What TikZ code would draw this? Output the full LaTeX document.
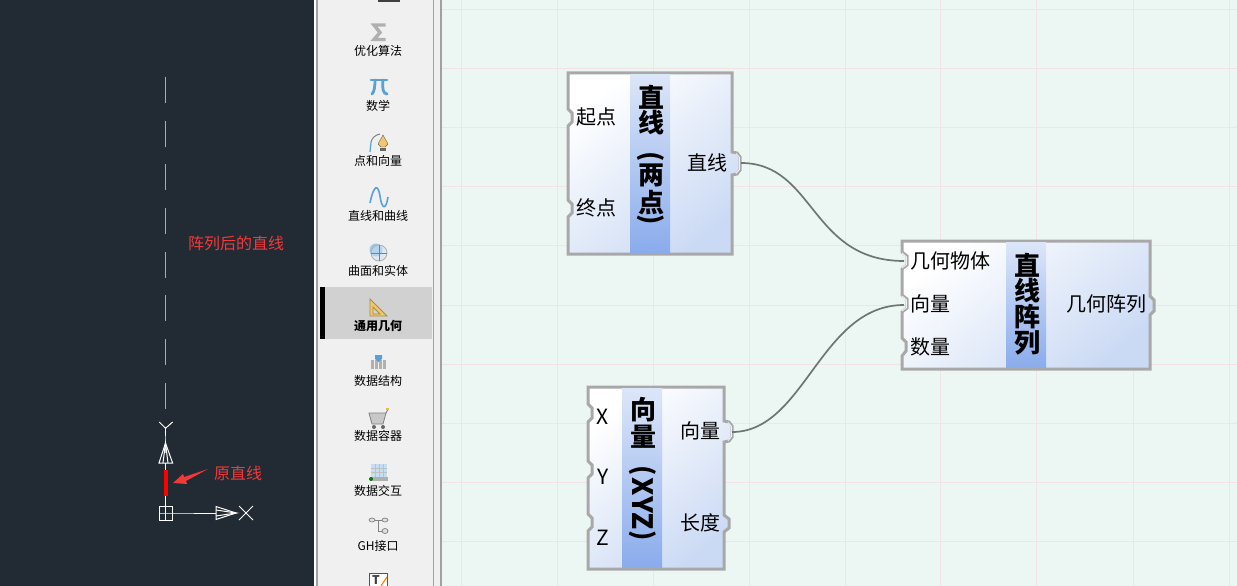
\documentclass[tikz,border=0pt]{standalone}
\usepackage{fontspec}
\setmainfont{Noto Sans CJK SC}
\usetikzlibrary{arrows.meta}
\definecolor{cadbg}{HTML}{222A33}
\definecolor{panelbg}{HTML}{F0F0F0}
\definecolor{panelline}{HTML}{A0A0A0}
\definecolor{canvasbg}{HTML}{ECF7F3}
\definecolor{gridpink}{HTML}{F2E4E6}
\definecolor{boxedge}{HTML}{A8A8A8}
\definecolor{wirecol}{HTML}{6E7672}
\definecolor{redlab}{HTML}{F03A3A}
\definecolor{cyanline}{HTML}{27E0F0}
\definecolor{iconblue}{HTML}{58A0D8}
\definecolor{icongray}{HTML}{B0B0B0}
\definecolor{iconyellow}{HTML}{F2C66A}
\definecolor{boxright}{HTML}{CBDAF4}
\definecolor{bandtop}{HTML}{DCE6F8}
\definecolor{bandbot}{HTML}{8AACEC}
\tikzset{
  boxshape/.style={draw=boxedge,line width=3pt,line join=miter,top color=white,bottom color=boxright,shading angle=40},
  bandshape/.style={top color=bandtop,bottom color=bandbot,draw=none},
  portlab/.style={font=\fontsize{20}{20}\selectfont,inner sep=0pt,text=black},
  portlat/.style={font=\fontsize{21}{21}\selectfont,inner sep=0pt,text=black},
  portglint/.style={draw=white!85!boxedge,line width=.9pt,line join=round},
  titlech/.style={font=\fontsize{26}{26}\selectfont\bfseries,inner sep=0pt,text=black},
  titlelat/.style={font=\fontsize{28}{28}\selectfont\bfseries,inner sep=0pt,text=black,rotate=-90},
  toollab/.style={font=\fontsize{12}{12}\selectfont,inner sep=0pt,text=black},
  wire/.style={draw=wirecol,line width=1.7pt},
  gridline/.style={draw=gridpink,line width=0.9pt},
  cadline/.style={draw=white,line width=1pt},
  dashline/.style={draw=cyanline,line width=1pt},
  redtext/.style={font=\fontsize{16}{16}\selectfont,text=redlab,inner sep=0pt},
}
\begin{document}
\begin{tikzpicture}[x=1pt,y=-1pt]
\useasboundingbox (0,0) rectangle (1237,586);
% backgrounds
\fill[cadbg] (0,0) rectangle (314,586);
\fill[panelbg] (314,0) rectangle (441,586);
\fill[white] (314,0) rectangle (317,586);
\fill[canvasbg] (441,0) rectangle (1237,586);
\draw[panelline,line width=1.4pt] (317,0) -- (317,586);
\draw[panelline,line width=1.4pt] (433.5,0) -- (433.5,586);
\draw[panelline,line width=1.4pt] (441,0) -- (441,586);
% grid
\foreach \gx in {461,557,653,749,845,940,1036,1133,1229}{\draw[gridline] (\gx,0) -- (\gx,586);}
\foreach \gy in {9,68,127,186,245,305,364,423,482,541}{\draw[gridline] (442,\gy) -- (1237,\gy);}
% CAD side
\foreach \dy in {77,121,164,208,252,295,339,383,427}{\draw[dashline] (165.5,\dy) -- (165.5,\dy+26);}
\draw[cadline] (159.3,422) -- (165.5,428.3) -- (172.6,422);
\draw[cadline] (165.5,428.3) -- (165.5,436);
\draw[cadline] (159,463) -- (165.5,443) -- (172.6,463) -- cycle;
\draw[cadline] (163,463) -- (165.5,443) -- (168,463);
\draw[cadline] (165.5,463) -- (165.5,506);
\fill[red] (164,470) rectangle (168,496);
\draw[cadline,fill=cadbg] (159,506) rectangle (172.6,520);
\draw[cadline] (165.5,506) -- (165.5,520) (159,513) -- (172.6,513) -- (216,513);
\draw[cadline] (216,506.5) -- (236,513) -- (216,519.5) -- cycle;
\draw[cadline] (216,510) -- (236,513) -- (216,516);
\draw[cadline] (239,506) -- (253,520) (253,506) -- (239,520);
\node[redtext] (arrlab) at (236,243) {阵列后的直线};
\node[redtext] (origlab) at (238,473) {原直线};
\fill[redlab] (173,483) -- (183,474) -- (184,477) -- (208,469) -- (186,481) -- (187,484) -- cycle;
% tool panel
\fill[black!75] (378,0) rectangle (400,2);
\node[toollab] (t1) at (378,51) {优化算法};
\node[toollab] (t2) at (378,106) {数学};
\node[toollab] (t3) at (378,161) {点和向量};
\node[toollab] (t4) at (378,216) {直线和曲线};
\node[toollab] (t5) at (378,271) {曲面和实体};
\fill[black!18] (320,287) rectangle (432,339);
\fill[black] (320,287) rectangle (325,339);
\node[toollab,font=\fontsize{12}{12}\selectfont\bfseries] (t6) at (378,326) {通用几何};
\node[toollab] (t7) at (378,381) {数据结构};
\node[toollab] (t8) at (378,436) {数据容器};
\node[toollab] (t9) at (378,491) {数据交互};
\node[toollab] (t10) at (378,546) {GH接口};
% icons
\draw[icongray,line width=3.4pt,line join=miter] (385.5,25) -- (374,25) -- (380,32.5) -- (374,39.5) -- (385.5,39.5);
\draw[iconblue,line width=2.8pt,line cap=round] (371,80) -- (387,80);
\draw[iconblue,line width=2.8pt,line cap=round] (375,80) .. controls (375,88) and (374,92) .. (372,94);
\draw[iconblue,line width=2.8pt,line cap=round] (383,80) .. controls (382,88) and (383,94) .. (387,94);
\draw[gray,line width=1pt] (371,142) .. controls (372,138) and (375,135) .. (380,134);
\draw[iconblue,line width=1.2pt] (370,152) -- (371,142);
\fill[iconyellow,draw=black!60,line width=.4pt] (383,135) -- (388,144) -- (385,147) -- (381,147) -- (378,144) -- cycle;
\fill[black!60] (380,148) rectangle (386,151);
\draw[iconblue,line width=1.6pt] (370,203) .. controls (374,184) and (378,184) .. (380,196) .. controls (382,210) and (386,210) .. (388,197);
\fill[iconblue!60] (376,250) circle (6.5);
\draw[icongray,fill=white!70!iconblue,fill opacity=.5,line width=.8pt] (379,253) circle (8);
\draw[gray,line width=.6pt] (371,253) -- (387,253) (379,245) -- (379,261);
\draw[draw=iconyellow!70!black,fill=iconyellow,line width=.8pt,even odd rule] (370,299) -- (387,316) -- (370,316) -- cycle (373,307) -- (380,314) -- (373,314) -- cycle;
\foreach \ix in {371,375,379,383}{\fill[icongray] (\ix,360) rectangle +(3,9);}
\fill[iconblue] (375,355) -- (382,355) -- (382,359) -- (378.5,362) -- (375,359) -- cycle;
\draw[gray,line width=.8pt,fill=icongray!70] (369,413) -- (386,413) -- (383,424) -- (372,424) -- cycle;
\draw[gray,line width=.9pt] (386,413) -- (388,409);
\fill[iconyellow!70!orange] (386,408) rectangle (389,410);
\fill[black!60] (374,427) circle (2) (383,427) circle (2);
\fill[iconblue!35] (371,464) rectangle (387,477);
\draw[icongray!80,line width=.5pt] (375,464) -- (375,477) (379,464) -- (379,477) (383,464) -- (383,477) (371,468) -- (387,468) (371,472) -- (387,472);
\fill[icongray] (370,477) rectangle (388,481);
\fill[green!50!black] (371,479) circle (2);
\draw[gray,line width=.7pt,fill=icongray!40] (372,520) ellipse (3 and 2) (385,520) ellipse (3 and 2) (385,531) ellipse (3 and 2.5);
\draw[gray,line width=.9pt] (375,520) -- (382,520) (378.5,520) -- (378.5,531) -- (382,531);
\draw[black!60!blue!70,fill=white,line width=.9pt] (369,573.5) rectangle (387,586);
\node[font=\fontsize{12}{12}\selectfont\bfseries,text=black!75,inner sep=0pt] (ticon) at (376,580) {T};
\draw[orange,line width=1.2pt] (381,586) -- (387,577);
% component 1: line by two points
\draw[boxshape] (568,73) -- (732,73) -- (732,152) -- (737,153) -- (740,157) -- (740,170) -- (737,174) -- (732,175) -- (732,254) -- (568,254) -- (568,217) -- (572,213) -- (572,204) -- (568,200) -- (568,126) -- (572,122) -- (572,113) -- (568,109) -- cycle;
\draw[portglint] (736,153.5) -- (739.5,157.5) -- (739.5,169.5) -- (736,173.5);
\fill[bandshape] (630,74.5) rectangle (670,252.5);
\foreach \n/\yy/\cc in {a/97/直,b/123/线,c/175/两,d/203/点}{\node[titlech] (c1\n) at (651,\yy) {\cc};}
\node[titlech,rotate=-90] (c1e) at (651,157) {(};
\node[titlech,rotate=-90] (c1f) at (651,220) {)};
\node[portlab,anchor=west] (c1p1) at (576,117) {起点};
\node[portlab,anchor=west] (c1p2) at (576,208) {终点};
\node[portlab,anchor=east] (c1o) at (728,163) {直线};
\coordinate (c1out) at (741,163);
% component 2: vector XYZ
\draw[boxshape] (588,387) -- (724,387) -- (724,421) -- (729,422) -- (732,426) -- (732,437) -- (729,441) -- (724,442) -- (724,515) -- (729,519) -- (729,528) -- (724,532) -- (724,569) -- (588,569) -- (588,531) -- (592,527) -- (592,518) -- (588,514) -- (588,478) -- (592,474) -- (592,465) -- (588,461) -- (588,422) -- (592,418) -- (592,408) -- (588,404) -- cycle;
\draw[portglint] (728,422.5) -- (731.5,426.5) -- (731.5,436.5) -- (728,440.5);
\fill[bandshape] (622,388.5) rectangle (662,567.5);
\node[titlech] (c2a) at (643,410) {向};
\node[titlech] (c2b) at (643,437) {量};
\node[titlech,rotate=-90] (c2c) at (643,471) {(};
\node[titlelat] (c2d) at (643,487) {X};
\node[titlelat] (c2e) at (643,505) {Y};
\node[titlelat] (c2f) at (643,521) {Z};
\node[titlech,rotate=-90] (c2g) at (643,536) {)};
\node[portlat] (c2x) at (603,417) {X};
\node[portlat] (c2y) at (603,477) {Y};
\node[portlat] (c2z) at (603,538) {Z};
\node[portlab,anchor=east] (c2o) at (721,431) {向量};
\node[portlab,anchor=east] (c2l) at (721,523) {长度};
\coordinate (c2out) at (732,432);
% component 3: geometry array
\draw[boxshape] (902,241) -- (1150,241) -- (1150,296) -- (1154,300) -- (1154,311) -- (1150,315) -- (1150,369) -- (902,369) -- (902,356) -- (906,351) -- (906,342) -- (902,338) -- (902,312) -- (907,308) -- (907,299) -- (902,295) -- (902,269) -- (907,265) -- (907,256) -- (902,252) -- cycle;
\draw[portglint] (902,253) -- (906.5,257) -- (906.5,264.5) -- (902,268);
\draw[portglint] (902,296) -- (906.5,300) -- (906.5,307.5) -- (902,311);
\fill[bandshape] (1006,242.5) rectangle (1046,367.5);
\foreach \n/\yy/\cc in {a/265/直,b/291/线,c/317/阵,d/343/列}{\node[titlech] (c3\n) at (1027,\yy) {\cc};}
\node[portlab,anchor=west] (c3p1) at (910,261) {几何物体};
\node[portlab,anchor=west] (c3p2) at (910,304) {向量};
\node[portlab,anchor=west] (c3p3) at (910,347) {数量};
\node[portlab,anchor=east] (c3o) at (1147,304) {几何阵列};
\coordinate (c3in1) at (904,261);
\coordinate (c3in2) at (904,305);
% wires
\draw[wire] (c1out) .. controls (815,163) and (810,261) .. (c3in1);
\draw[wire] (c2out) .. controls (805,432) and (820,305) .. (c3in2);
\end{tikzpicture}
\end{document}
